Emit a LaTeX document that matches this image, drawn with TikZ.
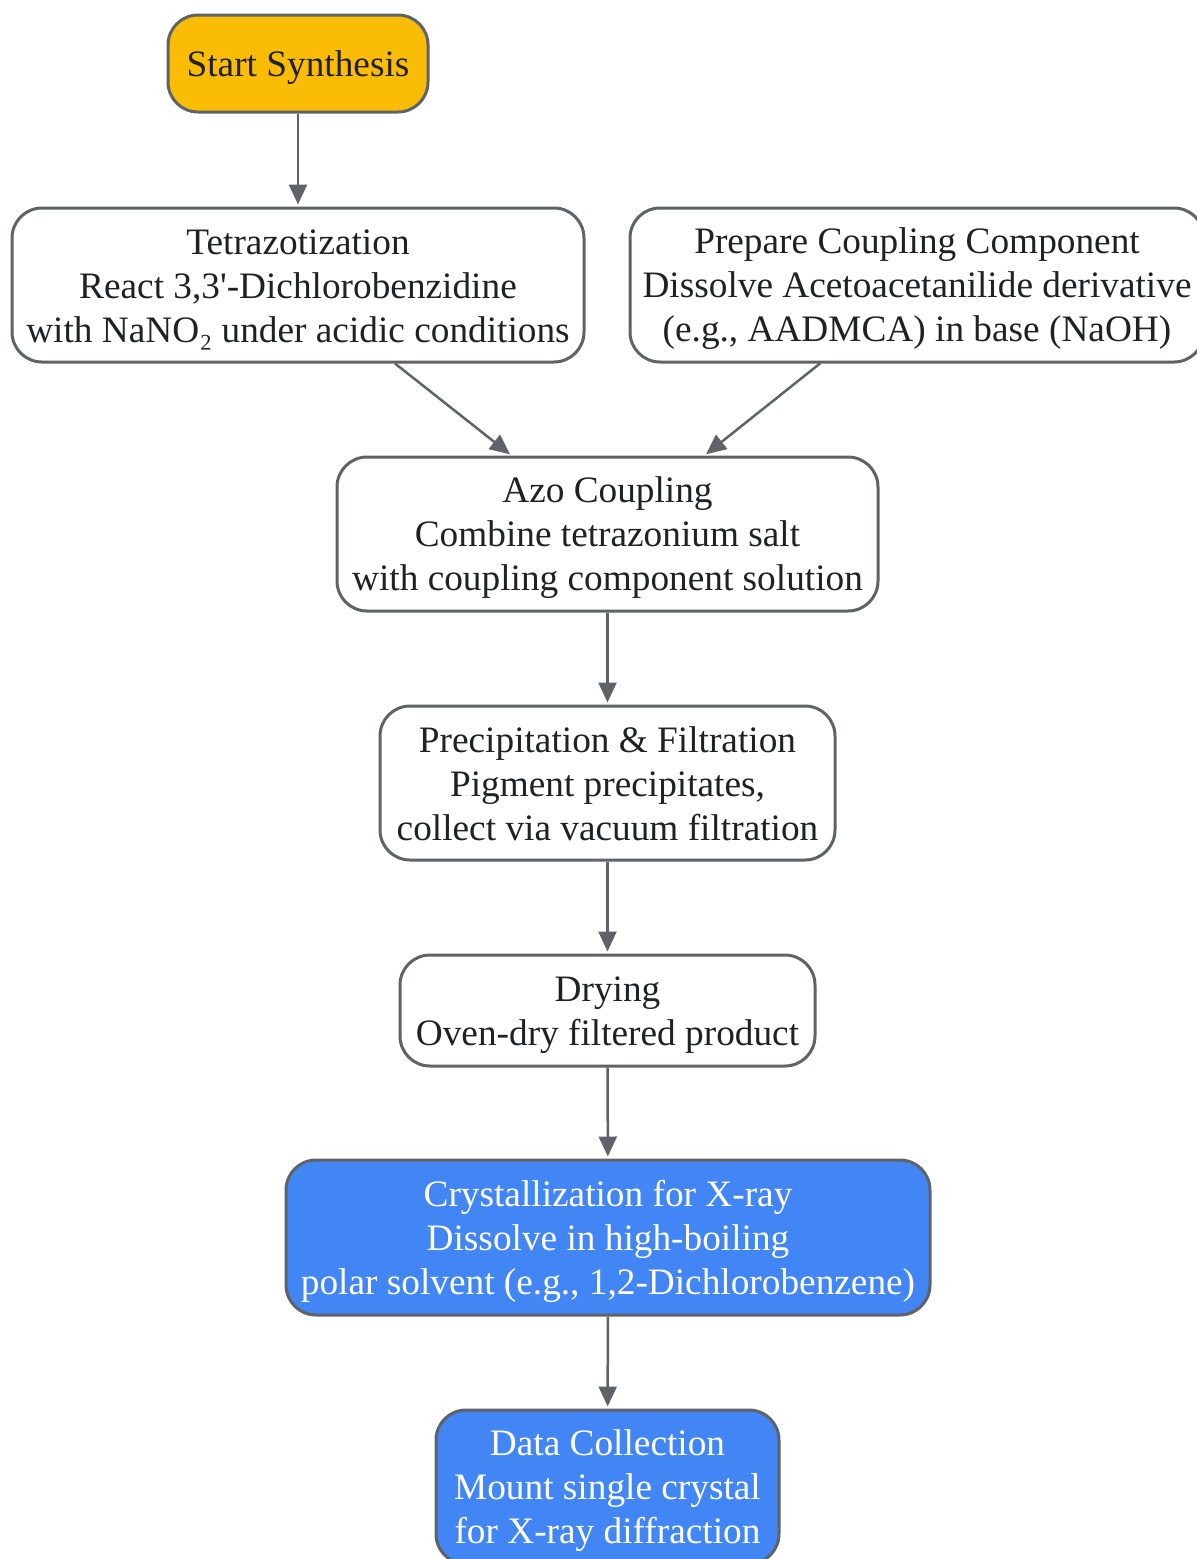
\documentclass[tikz,border=0pt]{standalone}
\usepackage{fontspec}
\setmainfont{Liberation Serif}[Ligatures=TeXOff]
\usetikzlibrary{arrows.meta,calc}
\definecolor{edgegray}{HTML}{5F6368}
\definecolor{txtdark}{HTML}{202124}
\definecolor{startfill}{HTML}{FBBC05}
\definecolor{bluefill}{HTML}{4285F4}
\newcommand{\topstr}{\rule{0pt}{34pt}}
\newcommand{\botstr}{\rule[-8pt]{0pt}{8pt}}
\tikzset{
  stepbox/.style={draw=edgegray, line width=3pt, rounded corners=30pt, fill=white,
    text=txtdark, align=center, inner sep=0pt,
    font=\fontsize{37.3}{44}\selectfont},
  startbox/.style={stepbox, fill=startfill},
  bluebox/.style={stepbox, fill=bluefill, text=white},
  flow/.style={draw=edgegray, line width=2.5pt, -{Triangle[length=20pt,width=18pt]}, shorten >=2pt}
}
\begin{document}
\begin{tikzpicture}[x=1pt,y=-1pt]
\useasboundingbox (0,0) rectangle (1197,1559);
\node[startbox, minimum width=260pt, minimum height=97pt] (start) at (298,63.5) {\topstr Start Synthesis\botstr};
\node[stepbox, minimum width=572pt, minimum height=154pt] (tetra) at (298,285) {\topstr Tetrazotization\\React 3,3'-Dichlorobenzidine\\with NaNO₂ under acidic conditions\botstr};
\node[stepbox, minimum width=574pt, minimum height=154pt] (prep) at (917,285) {\topstr Prepare Coupling Component\\Dissolve Acetoacetanilide derivative\\(e.g., AADMCA) in base (NaOH)\botstr};
\node[stepbox, minimum width=541pt, minimum height=154pt] (azo) at (607.5,534) {\topstr Azo Coupling\\Combine tetrazonium salt\\with coupling component solution\botstr};
\node[stepbox, minimum width=455pt, minimum height=154pt] (prec) at (607.5,783) {\topstr Precipitation \& Filtration\\Pigment precipitates,\\collect via vacuum filtration\botstr};
\node[stepbox, minimum width=415pt, minimum height=111pt] (dry) at (607.5,1010.5) {\topstr Drying\\Oven-dry filtered product\botstr};
\node[bluebox, minimum width=644pt, minimum height=155pt] (cryst) at (608,1237.5) {\topstr Crystallization for X-ray\\Dissolve in high-boiling\\polar solvent (e.g., 1,2-Dichlorobenzene)\botstr};
\node[bluebox, minimum width=343pt, minimum height=154pt] (data) at (607.5,1487) {\topstr Data Collection\\Mount single crystal\\for X-ray diffraction\botstr};
\coordinate (t1) at ($(tetra.south)+(97,0)$);
\coordinate (a1) at ($(azo.north)+(-96,0)$);
\coordinate (p1) at ($(prep.south)+(-97,0)$);
\coordinate (a2) at ($(azo.north)+(97,0)$);
\draw[flow] (start) -- (tetra);
\draw[flow] (t1) -- (a1);
\draw[flow] (p1) -- (a2);
\draw[flow] (azo) -- (prec);
\draw[flow] (prec) -- (dry);
\draw[flow] (dry) -- (cryst);
\draw[flow] (cryst) -- (data);
\end{tikzpicture}
\end{document}
